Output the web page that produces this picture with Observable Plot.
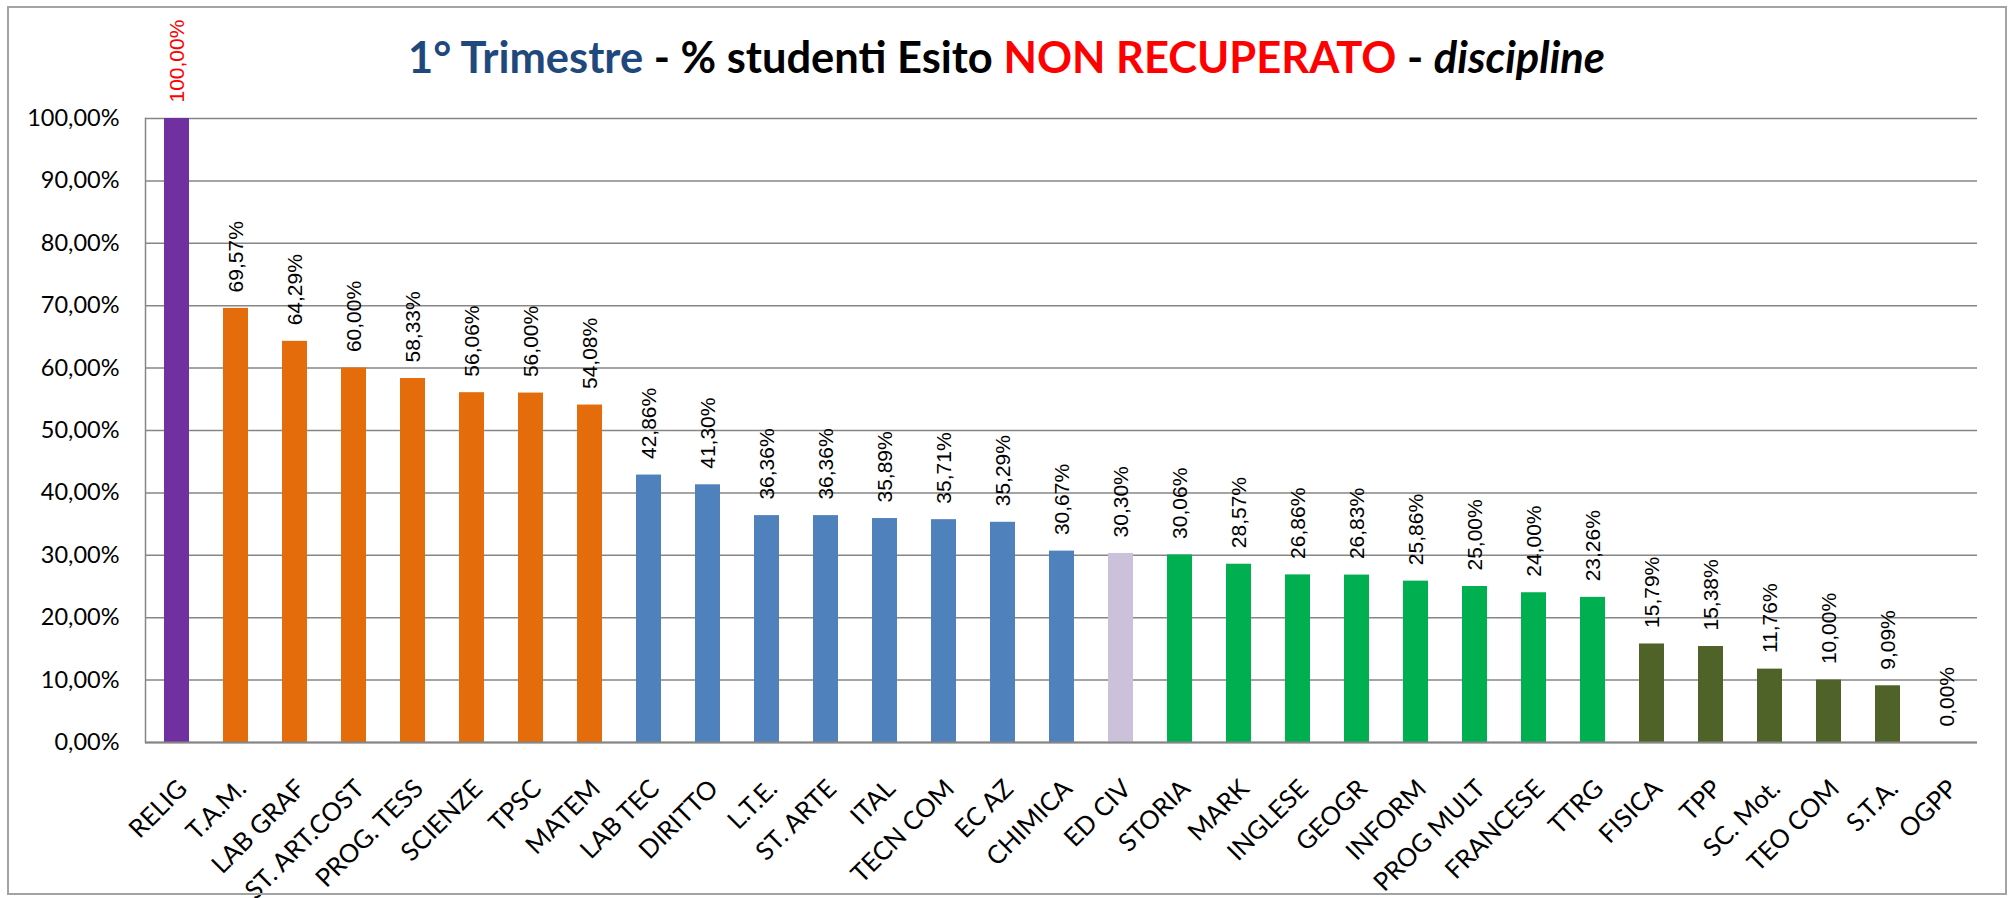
<!DOCTYPE html>
<html>
<head>
<meta charset="utf-8">
<script src="https://cdn.jsdelivr.net/npm/d3@7"></script>
<script src="https://cdn.jsdelivr.net/npm/@observablehq/plot@0.6"></script>
<style>
  html, body { margin: 0; padding: 0; background: #fff; }
  body { width: 2013px; height: 898px; position: relative; overflow: hidden; }
  #chart { position: absolute; left: 0; top: 0; }
  #frame { position: absolute; left: 7px; top: 6px; width: 2000px; height: 889px; box-sizing: border-box;
           border: 2px solid #a3a3a3; pointer-events: none; }
  #title { position: absolute; left: 0; top: 0; pointer-events: none; }
</style>
</head>
<body>
<div id="chart"></div>
<svg id="title" width="2013" height="110"></svg>
<div id="frame"></div>
<script>
// ---- data ----
const subjects = ["RELIG","T.A.M.","LAB GRAF","ST. ART.COST","PROG. TESS","SCIENZE","TPSC","MATEM",
  "LAB TEC","DIRITTO","L.T.E.","ST. ARTE","ITAL","TECN COM","EC AZ","CHIMICA","ED CIV",
  "STORIA","MARK","INGLESE","GEOGR","INFORM","PROG MULT","FRANCESE","TTRG",
  "FISICA","TPP","SC. Mot.","TEO COM","S.T.A.","OGPP"];
const percentages = [100.00, 69.57, 64.29, 60.00, 58.33, 56.06, 56.00, 54.08,
  42.86, 41.30, 36.36, 36.36, 35.89, 35.71, 35.29, 30.67, 30.30,
  30.06, 28.57, 26.86, 26.83, 25.86, 25.00, 24.00, 23.26,
  15.79, 15.38, 11.76, 10.00, 9.09, 0.00];
const groups = ["A","B","B","B","B","B","B","B",
  "C","C","C","C","C","C","C","C","D",
  "E","E","E","E","E","E","E","E",
  "F","F","F","F","F","F"];
const groupNames = ["A","B","C","D","E","F"];
const groupColors = ["#7030A0","#E46C0A","#4F81BD","#CCC1DA","#00B050","#4F6228"];
const yTicks = [0,10,20,30,40,50,60,70,80,90,100];

const data = subjects.map((s, i) => ({subject: s, value: percentages[i], group: groups[i]}));
const fmt = v => v.toFixed(2).replace(".", ",") + "%";

const W = 2013, H = 898;
const chart = Plot.plot({
  width: W, height: H,
  marginLeft: 145, marginRight: 36, marginTop: 118, marginBottom: 156,
  style: {fontFamily: "Lato, sans-serif", fontSize: "23.5px", color: "#000", background: "transparent"},
  x: {domain: subjects, paddingInner: 0.577, paddingOuter: 0.2885, label: null},
  y: {domain: [0, 100], label: null},
  color: {domain: groupNames, range: groupColors},
  marks: [
    Plot.gridY(yTicks, {stroke: "#868686", strokeOpacity: 1, strokeWidth: 1.5}),
    Plot.barY(data, {x: "subject", y: "value", fill: "group"}),
    Plot.ruleY([0], {stroke: "#868686", strokeWidth: 2}),
    Plot.frame({anchor: "left", stroke: "#868686", strokeWidth: 1.5}),
    Plot.axisY({ticks: yTicks, tickSize: 0, tickPadding: 26, tickFormat: fmt, fontSize: 23.5, label: null}),
    Plot.axisX({tickSize: 0, tickPadding: 0, tickRotate: -45, textAnchor: "end", lineAnchor: "top",
                dx: -1, dy: 35, fontSize: 25.5, label: null}),
    Plot.text(data, {x: "subject", y: "value", text: d => fmt(d.value), rotate: -90,
      textAnchor: "start", lineAnchor: "middle", dy: -16,
      fill: d => d.group === "A" ? "#FF0000" : "#000",
      fontFamily: "'Liberation Sans', Arial, sans-serif", fontSize: 21})
  ]
});
document.getElementById("chart").appendChild(chart);

// ---- title ----
const t = d3.select("#title").append("text")
  .attr("x", 408).attr("y", 73)
  .attr("font-family", "Lato, sans-serif").attr("font-weight", "bold").attr("font-size", 43)
  .attr("textLength", 1197).attr("lengthAdjust", "spacingAndGlyphs");
t.append("tspan").attr("fill", "#1F497D").text("1° Trimestre");
t.append("tspan").attr("fill", "#000").text(" - % studenti Esito ");
t.append("tspan").attr("fill", "#FF0000").text("NON RECUPERATO");
t.append("tspan").attr("fill", "#000").text(" - ");
t.append("tspan").attr("fill", "#000").attr("font-style", "italic").text("discipline");
</script>
</body>
</html>
